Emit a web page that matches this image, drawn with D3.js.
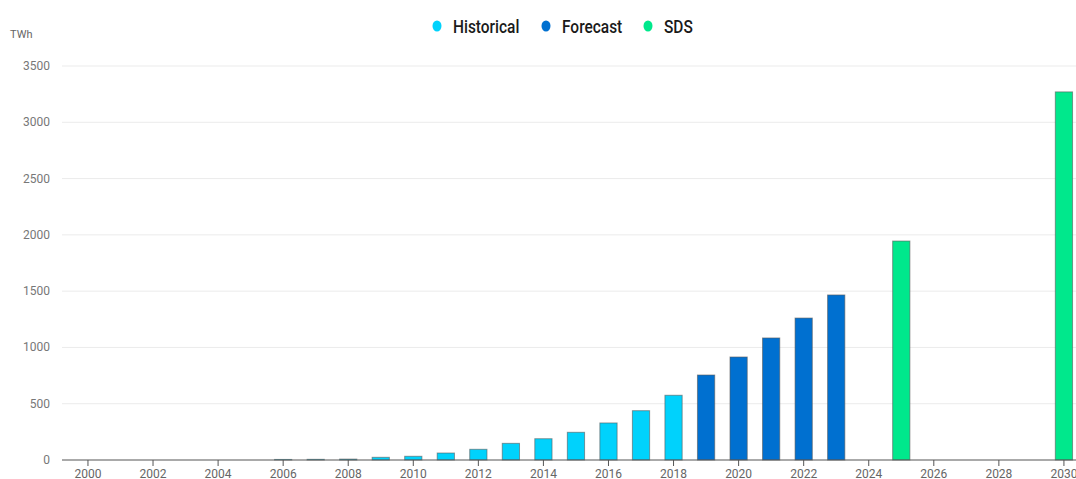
<!DOCTYPE html>
<html>
<head>
<meta charset="utf-8">
<script src="https://cdn.jsdelivr.net/npm/d3@7"></script>
<style>
  body { margin: 0; background: #fff; }
  svg { display: block; }
</style>
</head>
<body>
<div id="chart"></div>
<script>
// years on the x axis
var years = d3.range(2000, 2031);
// bar values, TWh
var historical = [
  [2006, 5], [2007, 6], [2008, 8], [2009, 24], [2010, 33], [2011, 62],
  [2012, 95], [2013, 148], [2014, 189], [2015, 246], [2016, 329],
  [2017, 438], [2018, 575]
];
var forecast = [[2019, 755], [2020, 915], [2021, 1084], [2022, 1261], [2023, 1466]];
var sds = [[2025, 1945], [2030, 3270]];
var yTicks = [0, 500, 1000, 1500, 2000, 2500, 3000, 3500];
var seriesNames = ["Historical", "Forecast", "SDS"];
var seriesColors = ["#00d2fc", "#0070d0", "#00e88c"];

var svgWidth = 1076, svgHeight = 479;
var margin = { top: 66, right: 0, bottom: 19, left: 62 };

var svg = d3.select("#chart").append("svg")
  .attr("width", svgWidth)
  .attr("height", svgHeight)
  .style("font-family", "Roboto, 'Open Sans', sans-serif");

// band scale, 31 years; the right end runs past the picture edge
var x = d3.scaleBand().domain(years).range([71.7, 1080.2])
  .paddingInner(0.47).paddingOuter(0.235);
var y = d3.scaleLinear().domain([0, 3500]).range([460, 66]);

// gridlines
svg.append("g").selectAll("line")
  .data(yTicks.slice(1))
  .enter().append("line")
  .attr("x1", margin.left).attr("x2", svgWidth)
  .attr("y1", d => y(d)).attr("y2", d => y(d))
  .attr("stroke", "#ebebeb").attr("stroke-width", 1);

// y labels
svg.append("g").selectAll("text")
  .data(yTicks)
  .enter().append("text")
  .attr("x", 50).attr("y", d => y(d) + 4)
  .attr("text-anchor", "end")
  .attr("font-size", 12).attr("fill", "#777")
  .text(d => d);

svg.append("text").attr("x", 10).attr("y", 38)
  .attr("font-size", 11).attr("fill", "#666").text("TWh");

// bars
var all = [historical, forecast, sds];
all.forEach(function (s, i) {
  svg.append("g").selectAll("rect")
    .data(s)
    .enter().append("rect")
    .attr("x", d => x(d[0]))
    .attr("width", x.bandwidth())
    .attr("y", d => y(d[1]))
    .attr("height", d => y(0) - y(d[1]))
    .attr("fill", seriesColors[i])
    .attr("stroke", "#5a5a5a")
    .attr("stroke-opacity", 0.6)
    .attr("stroke-width", 1);
});

// x axis
var xAxis = d3.axisBottom(x)
  .tickValues(years.filter(d => d % 2 == 0))
  .tickSize(6).tickSizeOuter(0).tickPadding(3);
var gx = svg.append("g")
  .attr("transform", "translate(0," + y(0) + ")")
  .call(xAxis);
gx.select(".domain").attr("d", "M" + margin.left + ",0H" + svgWidth).attr("stroke", "#555");
gx.selectAll(".tick line").attr("stroke", "#555");
gx.selectAll(".tick text").attr("font-size", 12).attr("fill", "#666")
  .attr("font-family", "Roboto, sans-serif");

// legend (condensed look via horizontal squeeze)
var legendX = [437, 546, 648];
var legend = svg.append("g");
seriesNames.forEach(function (n, i) {
  legend.append("ellipse")
    .attr("cx", legendX[i]).attr("cy", 26)
    .attr("rx", 4.5).attr("ry", 5.5)
    .attr("fill", seriesColors[i]);
  legend.append("text")
    .attr("transform", "translate(" + (legendX[i] + 16) + ",33) scale(0.86,1)")
    .attr("font-size", 18).attr("font-weight", 500)
    .attr("fill", "#1a1a1a")
    .text(n);
});
</script>
</body>
</html>
